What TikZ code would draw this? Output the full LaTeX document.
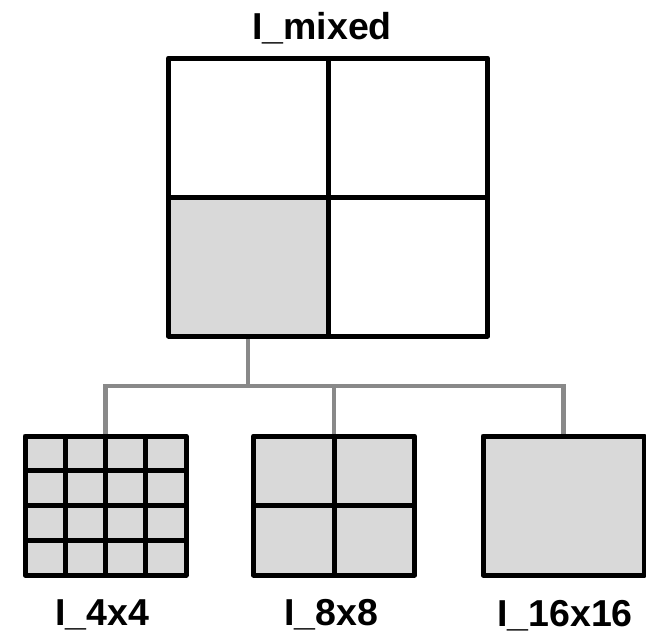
\documentclass[tikz,border=0pt]{standalone}
\usepackage{fontspec}
\setmainfont{Liberation Sans}
\usetikzlibrary{calc,backgrounds}
\definecolor{cellgray}{HTML}{D9D9D9}
\definecolor{linkgray}{HTML}{898989}
\begin{document}
\begin{tikzpicture}[x=1pt,y=-1pt,
  box/.style={rectangle, draw=black, line width=5pt, line join=round,
              inner sep=0pt, outer sep=0pt},
  grid/.style={draw=black, line width=5pt},
  link/.style={draw=linkgray, line width=4.2pt},
  lbl/.style={font=\bfseries\fontsize{37.5}{40}\selectfont, inner sep=0pt, anchor=base}]
\useasboundingbox (0,0) rectangle (646,632);

% mixed block: 2x2 partition, lower-left part shaded
\node[box, minimum width=319pt, minimum height=278pt] (mixed) at (328,197) {};
\begin{pgfonlayer}{background}
  \fill[cellgray] (mixed.west) rectangle (mixed.south);
\end{pgfonlayer}
\draw[grid] (mixed.north) -- (mixed.south);
\draw[grid] (mixed.west) -- (mixed.east);

% candidate partitions
\node[box, fill=cellgray, minimum width=161pt, minimum height=139pt] (b4)  at (105.5,505.5) {};
\node[box, fill=cellgray, minimum width=161pt, minimum height=139pt] (b8)  at (334,505.5) {};
\node[box, fill=cellgray, minimum width=161pt, minimum height=139pt] (b16) at (563.5,505.5) {};

\foreach \f in {0.25,0.5,0.75} {
  \draw[grid] ($(b4.north west)!\f!(b4.north east)$) -- ($(b4.south west)!\f!(b4.south east)$);
  \draw[grid] ($(b4.north west)!\f!(b4.south west)$) -- ($(b4.north east)!\f!(b4.south east)$);
}
\draw[grid] (b8.north) -- (b8.south);
\draw[grid] (b8.west) -- (b8.east);

% tree connectors
\coordinate (bus) at (0,386);
\coordinate (q) at ($(mixed.south west)!0.25!(mixed.south east)$);
\begin{pgfonlayer}{background}
  \draw[link] (q) -- (q |- bus);
  \draw[link] (b4.north) -- (b4.north |- bus) -- (b16.north |- bus) -- (b16.north);
  \draw[link] (b8.north |- bus) -- (b8.north);
\end{pgfonlayer}

% labels
\node[lbl] (tmixed) at (322,39) {I\_mixed};
\node[lbl] (t4)  at (102,625) {I\_4x4};
\node[lbl] (t8)  at (331,625) {I\_8x8};
\node[lbl] (t16) at (565,626) {I\_16x16};
\end{tikzpicture}
\end{document}
